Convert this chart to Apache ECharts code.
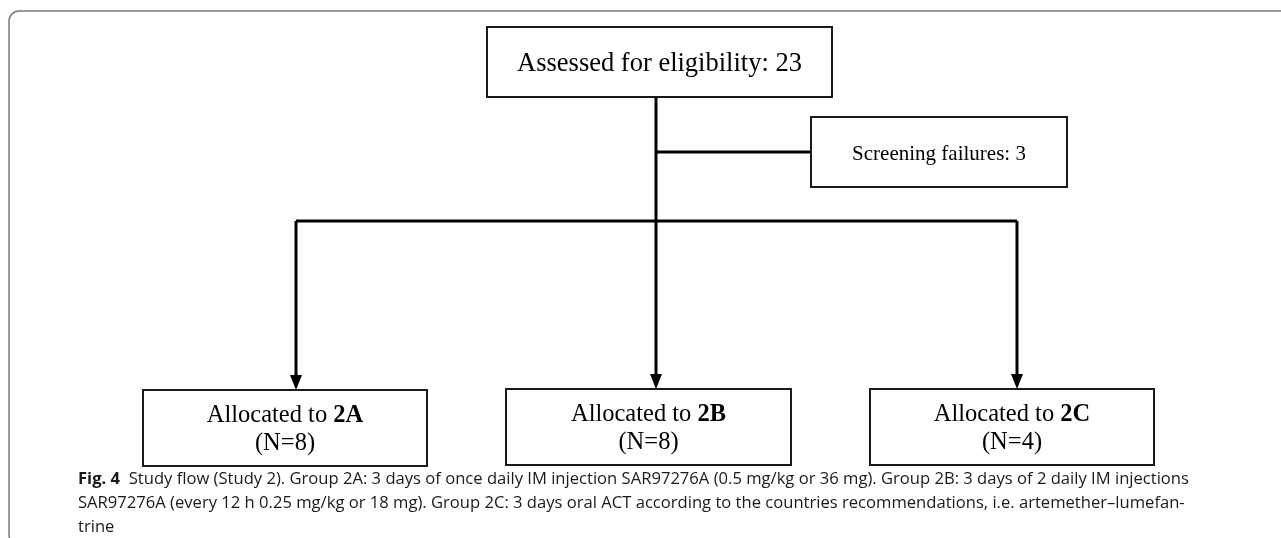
<!DOCTYPE html>
<html>
<head>
<meta charset="utf-8">
<script src="https://cdn.jsdelivr.net/npm/echarts@6/dist/echarts.min.js"></script>
<style>
  html, body { margin: 0; padding: 0; background: #fff; }
  #chart { width: 1281px; height: 538px; }
</style>
</head>
<body>
<div id="chart"></div>
<script>
// box texts
var boxTitles = ['Assessed for eligibility: 23', 'Screening failures: 3', 'Allocated to ', 'Allocated to ', 'Allocated to '];
var boxGroups = ['', '', '2A', '2B', '2C'];
var boxCounts = [null, null, 8, 8, 4];

// box layout in diagram units [x0, y0, x1, y1]
var boxLayout = [
    [487, 27, 832, 97],
    [811, 117, 1067, 187],
    [143, 390, 427, 466],
    [506, 389, 791, 465],
    [870, 389, 1154, 465]
];

// connector polylines, last flag = arrow at end
var connectors = [
    [[[656, 97], [656, 389]], true],
    [[[656, 152], [811, 152]], false],
    [[[296, 221], [1017, 221]], false],
    [[[296, 221], [296, 390]], true],
    [[[1017, 221], [1017, 389]], true]
];

var captionBold = 'Fig. 4';
var captionLines = [
    '  Study flow (Study 2). Group 2A: 3 days of once daily IM injection SAR97276A (0.5 mg/kg or 36 mg). Group 2B: 3 days of 2 daily IM injections',
    'SAR97276A (every 12 h 0.25 mg/kg or 18 mg). Group 2C: 3 days oral ACT according to the countries recommendations, i.e. artemether\u2013lumefan-',
    'trine'
];

var serif = '"Liberation Serif", "Times New Roman", serif';
var sans = '"Open Sans", "Noto Sans", sans-serif';
var boxFont = [26.5, 21, 24.5, 24.5, 24.5];

var chart = echarts.init(document.getElementById('chart'));

chart.setOption({
    animation: false,
    grid: { left: 0, right: 0, top: 0, bottom: 0 },
    xAxis: { type: 'value', min: 0, max: 1281, show: false },
    yAxis: { type: 'value', min: 0, max: 538, inverse: true, show: false },
    graphic: [{
        // card border (only left/top visible)
        type: 'rect',
        shape: { x: 9, y: 11, width: 1300, height: 534, r: 10 },
        style: { fill: 'none', stroke: '#7a7a7a', lineWidth: 1.5 },
        silent: true
    }],
    series: [{
        // connectors
        type: 'custom',
        coordinateSystem: 'cartesian2d',
        data: connectors.map(function (c, i) { return [c[0][0][0], c[0][0][1], i]; }),
        renderItem: function (params, api) {
            var c = connectors[api.value(2)];
            var pts = c[0].map(function (p) { return api.coord(p); });
            var children = [];
            var end = pts[pts.length - 1].slice();
            var lineEnd = pts.slice();
            if (c[1]) {
                lineEnd[lineEnd.length - 1] = [end[0], end[1] - 12];
                children.push({
                    type: 'polygon',
                    shape: { points: [[end[0] - 6, end[1] - 15], [end[0] + 6, end[1] - 15], [end[0], end[1]]] },
                    style: { fill: '#000' }
                });
            }
            children.unshift({
                type: 'polyline',
                shape: { points: lineEnd },
                style: { stroke: '#000', lineWidth: 3, fill: null }
            });
            return { type: 'group', children: children };
        },
        z: 2
    }, {
        // boxes
        type: 'custom',
        coordinateSystem: 'cartesian2d',
        data: boxLayout.map(function (b, i) { return [b[0], b[1], b[2], b[3], i]; }),
        renderItem: function (params, api) {
            var i = api.value(4);
            var p0 = api.coord([api.value(0), api.value(1)]);
            var p1 = api.coord([api.value(2), api.value(3)]);
            var txt = boxTitles[i];
            if (boxGroups[i]) txt += '{b|' + boxGroups[i] + '}';
            if (boxCounts[i] != null) txt += '\n(N=' + boxCounts[i] + ')';
            var fs = boxFont[i];
            return {
                type: 'group',
                children: [{
                    type: 'rect',
                    shape: { x: p0[0], y: p0[1], width: p1[0] - p0[0], height: p1[1] - p0[1] },
                    style: { fill: '#fff', stroke: '#1a1a1a', lineWidth: 2 }
                }, {
                    type: 'text',
                    style: {
                        text: txt,
                        x: (p0[0] + p1[0]) / 2,
                        y: (p0[1] + p1[1]) / 2 + 2,
                        align: 'center',
                        verticalAlign: 'middle',
                        fill: '#000',
                        fontFamily: serif,
                        fontSize: fs,
                        lineHeight: 28,
                        rich: {
                            b: { fontFamily: serif, fontSize: fs, fontWeight: 'bold', fill: '#000', lineHeight: 28 }
                        }
                    }
                }]
            };
        },
        z: 3
    }, {
        // caption
        type: 'custom',
        coordinateSystem: 'cartesian2d',
        data: captionLines.map(function (l, i) { return [78, 479 + i * 24, i]; }),
        renderItem: function (params, api) {
            var i = api.value(2);
            var p = api.coord([api.value(0), api.value(1)]);
            var txt = (i === 0 ? '{b|' + captionBold + '}' : '') + captionLines[i];
            return {
                type: 'text',
                style: {
                    text: txt,
                    x: p[0],
                    y: p[1],
                    align: 'left',
                    verticalAlign: 'middle',
                    fill: '#1a1a1a',
                    fontFamily: sans,
                    fontSize: 16.6,
                    rich: {
                        b: { fontFamily: sans, fontSize: 16.6, fontWeight: 'bold', fill: '#1a1a1a' }
                    }
                }
            };
        },
        z: 3
    }]
});
</script>
</body>
</html>
